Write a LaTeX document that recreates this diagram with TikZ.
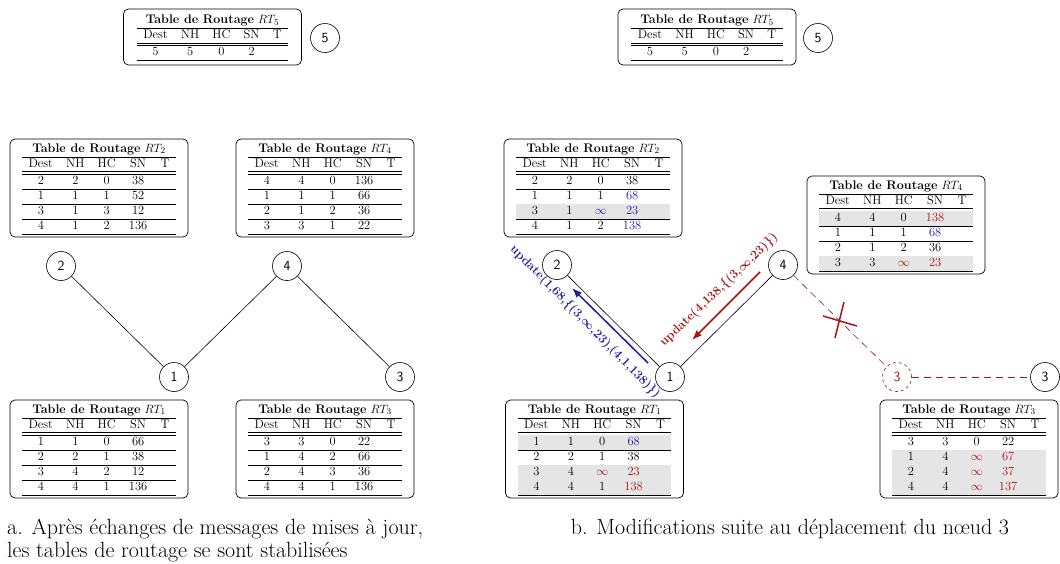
\documentclass[tikz,border=0pt]{standalone}
\usepackage{fontspec}
\usepackage[table]{xcolor}
\usepackage{array}
\usetikzlibrary{arrows.meta}
\definecolor{myblue}{RGB}{30,30,170}
\definecolor{myred}{RGB}{170,20,20}
\definecolor{rowgray}{gray}{0.9}
\newcommand\cb[1]{\textcolor{myblue}{#1}}
\newcommand\cre[1]{\textcolor{myred}{#1}}
\newcommand\rtab[2]{{\fontsize{12.5}{15}\selectfont\setlength\tabcolsep{6.6pt}\renewcommand\arraystretch{0.97}%
\begin{tabular}{ccccc}
\multicolumn{5}{c}{\textbf{Table de Routage} $RT_{#1}$}\\\hline
Dest & NH & HC & SN & T\\\hline\hline
#2
\end{tabular}}}
\tikzset{
  tbl/.style={draw, rounded corners=5pt, line width=0.7pt, inner sep=2pt, minimum width=178pt, minimum height=98pt},
  tblsmall/.style={tbl, minimum height=56pt},
  num/.style={circle, draw, line width=0.6pt, minimum size=29pt, inner sep=0pt, font=\sffamily\fontsize{14}{14}\selectfont},
  numd/.style={num, dashed, draw=myred, text=myred},
  conn/.style={line width=0.6pt},
  dconn/.style={line width=0.6pt, myred, dash pattern=on 7pt off 5pt},
  arr/.style={line width=1.5pt, -{Latex[length=10pt,width=7.5pt]}},
  lbl/.style={font=\bfseries\boldmath\fontsize{12.5}{12.5}\selectfont, inner sep=0pt},
  captext/.style={font=\fontsize{22}{22.5}\selectfont, inner sep=0pt}
}
\begin{document}
\begin{tikzpicture}[x=1pt,y=-1pt]
\useasboundingbox (0,0) rectangle (1060,563);
% ---------------- left panel
\node[tblsmall] (lt5) at (212.5,37) {\rtab{5}{5&5&0&2&\\\hline}};
\node[num] (l5) at (325,38) {5};
\node[tbl] (lt2) at (99,188) {\rtab{2}{2&2&0&38&\\\hline 1&1&1&52&\\\hline 3&1&3&12&\\\hline 4&1&2&136&\\\hline}};
\node[tbl] (lt4) at (325,188) {\rtab{4}{4&4&0&136&\\\hline 1&1&1&66&\\\hline 2&1&2&36&\\\hline 3&3&1&22&\\\hline}};
\node[tbl] (lt1) at (99,449) {\rtab{1}{1&1&0&66&\\\hline 2&2&1&38&\\\hline 3&4&2&12&\\\hline 4&4&1&136&\\\hline}};
\node[tbl] (lt3) at (325,449) {\rtab{3}{3&3&0&22&\\\hline 1&4&2&66&\\\hline 2&4&3&36&\\\hline 4&4&1&136&\\\hline}};
\node[num] (l2) at (61,266) {2};
\node[num] (l4) at (287,266) {4};
\node[num] (l1) at (174,377) {1};
\node[num] (l3) at (400,377) {3};
\draw[conn] (l2) -- (l1);
\draw[conn] (l1) -- (l4);
\draw[conn] (l4) -- (l3);
\node[captext, anchor=north west, align=left] (capa) at (7,519) {a. Après échanges de messages de mises à jour,\\les tables de routage se sont stabilisées};
% ---------------- right panel
\node[tblsmall] (rt5) at (707,37) {\rtab{5}{5&5&0&2&\\\hline}};
\node[num] (r5) at (818,38) {5};
\node[tbl] (rt2) at (593,188) {\rtab{2}{2&2&0&38&\\\hline 1&1&1&\cb{68}&\\\hline \rowcolor{rowgray}3&1&\cb{$\infty$}&\cb{23}&\\\hline 4&1&2&\cb{138}&\\\hline}};
\node[tbl] (rt4) at (896,225) {\rtab{4}{\rowcolor{rowgray}4&4&0&\cre{138}&\\\hline 1&1&1&\cb{68}&\\\hline 2&1&2&36&\\\hline \rowcolor{rowgray}3&3&\cre{$\infty$}&\cre{23}&\\\hline}};
\node[tbl] (rt1) at (594.5,449) {\rtab{1}{\rowcolor{rowgray}1&1&0&\cb{68}&\\\hline 2&2&1&38&\\\hline \rowcolor{rowgray}3&4&\cre{$\infty$}&\cre{23}&\\\hline \rowcolor{rowgray}4&4&1&\cre{138}&\\\hline}};
\node[tbl] (rt3) at (969,449) {\rtab{3}{3&3&0&22&\\\hline \rowcolor{rowgray}1&4&\cre{$\infty$}&\cre{67}&\\\hline \rowcolor{rowgray}2&4&\cre{$\infty$}&\cre{37}&\\\hline \rowcolor{rowgray}4&4&\cre{$\infty$}&\cre{137}&\\\hline}};
\node[num] (r2) at (557,265) {2};
\node[num] (r4) at (783,265) {4};
\node[num] (r1) at (670,377) {1};
\node[numd] (r3d) at (897,377) {3};
\node[num] (r3) at (1045,377) {3};
\draw[conn] (r2) -- (r1);
\draw[conn] (r1) -- (r4);
\draw[dconn] (r4) -- (r3d);
\draw[dconn] (r3d) -- (r3);
\draw[myred, line width=1.5pt] (823,316) -- (857,326);
\draw[myred, line width=1.5pt] (844,302) -- (835,338);
\coordinate (ba) at (648,363);
\coordinate (bb) at (572,288);
\draw[arr, myblue] (ba) -- (bb);
\coordinate (ra) at (760,272);
\coordinate (rb) at (692,340);
\draw[arr, myred] (ra) -- (rb);
\node[lbl, text=myblue, rotate=-45.5] (lb) at (585,322) {update(1,68,\{(3,$\infty$,23),(4,1,138)\})};
\node[lbl, text=myred, rotate=43.7] (lr) at (719,290) {update(4,138,\{(3,$\infty$,23)\})};
\node[captext, anchor=north] (capb) at (790,519) {b. Modifications suite au déplacement du nœud 3};
\end{tikzpicture}
\end{document}
